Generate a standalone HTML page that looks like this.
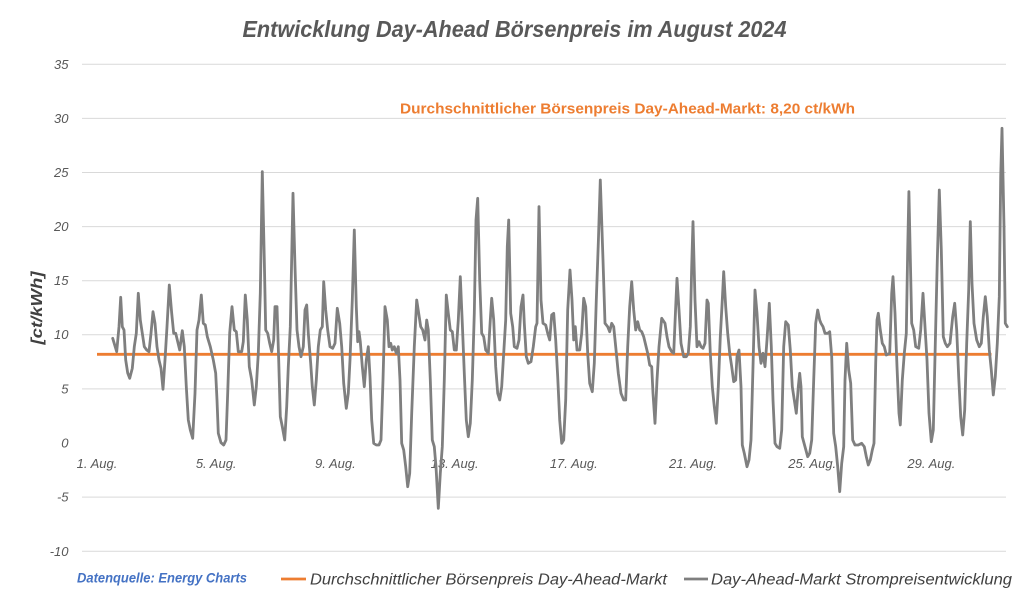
<!DOCTYPE html>
<html>
<head>
<meta charset="utf-8">
<style>
  html,body{margin:0;padding:0;background:#fff;}
  svg{display:block;}
  text{font-family:"Liberation Sans", Arial, sans-serif;}
</style>
</head>
<body>
<svg width="1024" height="605" viewBox="0 0 1024 605" xmlns="http://www.w3.org/2000/svg">
  <rect x="0" y="0" width="1024" height="605" fill="#ffffff"/>

  <!-- Title -->
  <text x="242.5" y="37" font-size="23" font-weight="bold" font-style="italic" fill="#595959" textLength="544" lengthAdjust="spacingAndGlyphs">Entwicklung Day-Ahead Börsenpreis im August 2024</text>

  <!-- Gridlines -->
  <g stroke="#d9d9d9" stroke-width="1">
    <line x1="82" y1="64.3" x2="1006" y2="64.3"/>
    <line x1="82" y1="118.4" x2="1006" y2="118.4"/>
    <line x1="82" y1="172.5" x2="1006" y2="172.5"/>
    <line x1="82" y1="226.6" x2="1006" y2="226.6"/>
    <line x1="82" y1="280.7" x2="1006" y2="280.7"/>
    <line x1="82" y1="334.8" x2="1006" y2="334.8"/>
    <line x1="82" y1="388.9" x2="1006" y2="388.9"/>
    <line x1="82" y1="497.1" x2="1006" y2="497.1"/>
    <line x1="82" y1="551.2" x2="1006" y2="551.2"/>
  </g>

  <!-- Y tick labels -->
  <g font-size="13" font-style="italic" fill="#595959" text-anchor="end">
    <text x="68.5" y="69">35</text>
    <text x="68.5" y="123">30</text>
    <text x="68.5" y="177">25</text>
    <text x="68.5" y="231">20</text>
    <text x="68.5" y="285">15</text>
    <text x="68.5" y="339">10</text>
    <text x="68.5" y="393.5">5</text>
    <text x="68.5" y="447.5">0</text>
    <text x="68.5" y="501.5">-5</text>
    <text x="68.5" y="556">-10</text>
  </g>

  <!-- Y axis title -->
  <text transform="translate(42,308) rotate(-90)" x="0" y="0" font-size="16" font-weight="bold" font-style="italic" fill="#404040" text-anchor="middle" textLength="73" lengthAdjust="spacingAndGlyphs">[ct/kWh]</text>

  <!-- X labels -->
  <g font-size="13" font-style="italic" fill="#595959" text-anchor="middle">
    <text x="97" y="468">1. Aug.</text>
    <text x="216.2" y="468">5. Aug.</text>
    <text x="335.4" y="468">9. Aug.</text>
    <text x="454.6" y="468">13. Aug.</text>
    <text x="573.8" y="468">17. Aug.</text>
    <text x="693" y="468">21. Aug.</text>
    <text x="812.2" y="468">25. Aug.</text>
    <text x="931.4" y="468">29. Aug.</text>
  </g>

  <!-- Average annotation -->
  <text x="400" y="113.5" font-size="15" font-weight="bold" fill="#ED7D31" textLength="455" lengthAdjust="spacingAndGlyphs">Durchschnittlicher Börsenpreis Day-Ahead-Markt: 8,20 ct/kWh</text>

  <!-- Average line -->
  <line x1="97" y1="354.3" x2="991.5" y2="354.3" stroke="#ED7D31" stroke-width="2.8"/>

  <!-- Series -->
  <polyline fill="none" stroke="#7F7F7F" stroke-width="2.8" stroke-linejoin="round" stroke-linecap="round" points="
112.7,338.3 116.7,351.7 119,326.7 120.7,297.3 122.3,326.7 124,330 125.7,360 127.7,373 129.7,378.3 132.3,368.3 134.3,346.7 136.3,333.3 138.3,293.3 140.3,320 142.3,333.3 144.3,346.7 146.7,350 149,351.7 151,333.3 153,311.7 155,323.3 157,346.7 159,360 161,368.3 163,389.3 165,360 167,326.7 169.3,285 171.7,313.3 173.7,333.3 175.7,333.3 177.7,341.7 179.7,350 182.3,330.7 184.3,346.7 186.3,386.7 188.3,420 190.3,430 192.7,438.3 195,393.3 197,330 199,320 201.3,295 203.3,323.3 205.3,325 207.3,336.7 210.3,346.7 213.3,360 215.7,373.3 217,400 218.3,433.3 221,442.7 223.7,445 226,440 227.7,393 229.7,333 232,306.7 234.3,330 236.3,331.7 238.3,351.7 241.7,351.7 243.3,341.7 245.3,295
247.3,320 249.3,366.7 251.7,380 254.3,405 256.3,386.7 258.3,353.3 260.3,293.3 262.3,171.7 264.3,260 265.7,330 267.7,333.3 269.7,343.3 271.7,351.7 273.7,340 275,306.7 277,306.7 278.7,360 280.3,416.7 282.3,426.7 284.7,440 286.7,406.7 288.3,366.7 290.3,326.7 293,193.3 295,266.7 297,330 299,346.7 301,356.7 303.3,346.7 305,310 306.7,305 308.3,333.3 310.7,363.3 312.3,386.7 314.3,405 316.3,380 318.3,346.7 320.3,330 322.3,326.7 323.7,281.7 325.7,310 327.7,330 330,346.7 332.7,348.3 335,343.3 337.3,308.3 339.7,323.3 341.7,346.7 343.7,383.3 346.3,408.3 348.3,393.3 350,360 352.3,300 354.3,230 356.3,306.7 357.7,341.7 359,331.7 360.3,341.7 362.3,366.7 364.3,386.7 366.3,360 368.3,346.7 370,376.7 371.7,420 373.7,443.3 376.3,445 379,445 381,440 383,380 385,306.7
387.3,320 389,346.7 390.7,343.3 392.3,350 394.3,346.7 396.3,353.3 398.3,346.7 400,380 401.7,443.3 403.7,450 405.7,466.7 407.7,486.7 409.7,473.3 411.7,413.3 414.3,346.7 416.7,300 418.7,313.3 420.7,326.7 422.7,330 425,340 426.7,320 428.3,330 430.3,380 432.3,440 434.3,446.7 436,466.7 438.3,508.3 440.3,473.3 442.3,446.7 444.3,380 446.3,295 448.3,313.3 450.3,330 452.3,331.7 454.3,350 456.3,350 458.3,320 460.3,276.7 462.3,323.3 464.3,373.3 466.3,420 468.3,436.7 470.3,423.3 472.3,380 474.3,313.3 476,220 477.7,198.3 479.7,280 481.7,333.3 483.7,336.7 485.7,350 488.3,353.3 490.3,320 491.7,298.3 493.7,320 495.7,366.7 497.7,393.3 499.7,400 501.7,386.7 503.7,353.3 505.7,320 507.3,246.7 508.7,220 510.7,313.3 512.7,326.7 514.3,346.7 517,348.3 519,340 521,306.7 523,295
524.3,323.3 526.3,356.7 528.3,363.3 531,361.7 533.3,346.7 535.7,326.7 537,323.3 539,206.7 541,300 543,323.3 545.7,325 547.7,333.3 549.7,340 551.7,315 553.7,313.3 555.7,340 557.7,376.7 559.7,420 561.7,443.3 563.7,440 565.7,400 567.7,310 570,270 572,300 573.7,340 575.3,326.7 577,350 579.7,350 581.7,333.3 583.7,298.3 585.7,306.7 587.7,353.3 589.7,383.3 592.3,391.7 594.3,363.3 596.3,300 598.3,243.3 600.3,180 603,260 605,323.3 607.7,326.7 609.7,331.7 611.7,323.3 613.7,326.7 615.7,346.7 618.3,373.3 621,393.3 623.7,400 625.7,400 627.7,346.7 629.7,306.7 631.7,281.7 633.7,310 635.7,330 637.7,321.7 639.7,330 641.7,331.7 643.7,336.7 645.7,345 647.7,353.3 649.7,365 651.7,366.7 653,393.3 655,423.3 657,380 659,346.7 661.7,318.3
665,323.3 667,336.7 669,346.7 671.7,351.7 673.7,353.3 675.7,306.7 677,278.3 679,310 681,343.3 683.7,356.7 686.3,356.7 688.3,353.3 690.3,326.7 691.7,266.7 693,221.7 695,300 697,346.7 699,341.7 701,346.7 703,348.3 705,343.3 707,300 708.3,303.3 710.3,353.3 712.3,386.7 714.3,406.7 716.3,423.3 718.3,386.7 720.3,336.7 722.3,300 723.7,271.7 725.7,306.7 727.7,333.3 729.7,353.3 731.7,366.7 733.7,381.7 735.7,380 737,356.7 739,350 741,386.7 742.3,445 744.3,453.3 747,466.7 749,460 751,440 753,366.7 755,290 757,313.3 759,346.7 761,363.3 763,353.3 765,366.7 767,340 769.3,303.3 771.3,346.7 773,400 775,443.3 777,446.7 779.7,448.3 781.7,430 783.7,346.7 785.7,321.7 788.3,325 790.3,350 792.3,386.7 794.3,400 796.3,413.3 798.3,386.7 799.7,373.3
801,386.7 802.3,436.7 805,446.7 807.7,456.7 809.7,453.3 811.7,440 813.7,380 815.7,323.3 817.7,310 819.7,320 821,323.3 823,326.7 825,333.3 827.7,333.3 829.7,331.7 831.7,356.7 833.7,433.3 835.7,446.7 837.7,466.7 839.7,491.7 841.7,463.3 843.7,446.7 845,380 846.7,343.3 848.7,370 850.7,383.3 852.7,440 855,445 858.3,445 861.7,443.3 864.3,446.7 866.3,456.7 868.3,465 870.3,460 872.3,450 874,443.3 875.7,363.3 877,320 878.3,313.3 880.3,330 882.3,343.3 884.3,346.7 886.3,355 889.7,353.3 891.7,293.3 893,276.7 895,313.3 897,366.7 899,413.3 900.3,425 902.3,380 904.3,353.3 906.3,333.3 907.7,250 908.9,191.7 911.7,323.3 913.7,330 915.7,346.7 918.7,348.3 920.7,330 923,293.3 925,326.7 927,360 929,413.3 931.3,441.7 933.3,430 935.3,343.3 937.3,260 939.3,190 941.3,250 943.3,336.7 945.3,343.3 947.3,346.7 950,343.3 952.7,316.7 954.7,303.3 956.7,330 958.7,376.7 960.7,416.7 962.7,435 964.7,410 966.7,343.3 968.7,290 970.3,221.7 972,283.3 974,323.3 976.7,340 979.3,346.7 981.3,343.3 983.3,316.7 985.3,296.7 987.3,316.7 989.3,350 991.3,370 993.3,395 995.3,376.7 997.3,343.3 999.3,296.7 1000.7,176.7 1002,128.3 1004,226.7 1005.3,323.3 1007.3,326.7"/>

  <!-- Footer / legend -->
  <text x="77" y="582.5" font-size="14" font-weight="bold" font-style="italic" fill="#4472C4" textLength="170" lengthAdjust="spacingAndGlyphs">Datenquelle: Energy Charts</text>

  <line x1="281" y1="579" x2="306" y2="579" stroke="#ED7D31" stroke-width="2.8"/>
  <text x="310" y="584.5" font-size="15.5" font-style="italic" fill="#404040" textLength="357" lengthAdjust="spacingAndGlyphs">Durchschnittlicher Börsenpreis Day-Ahead-Markt</text>

  <line x1="684" y1="579" x2="708" y2="579" stroke="#7F7F7F" stroke-width="2.8"/>
  <text x="711" y="584.5" font-size="15.5" font-style="italic" fill="#404040" textLength="301" lengthAdjust="spacingAndGlyphs">Day-Ahead-Markt Strompreisentwicklung</text>
</svg>
</body>
</html>
